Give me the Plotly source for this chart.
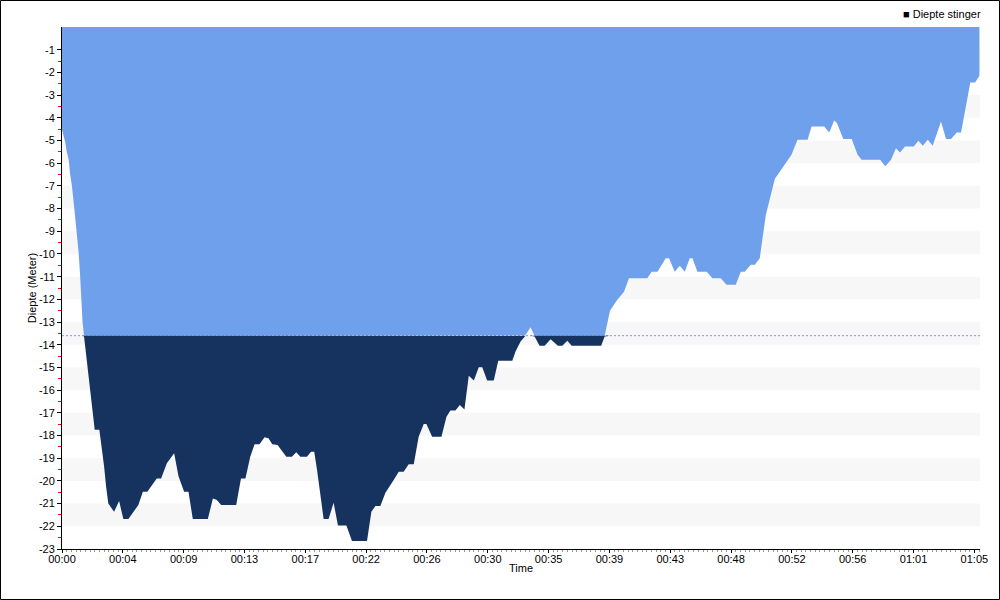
import plotly.graph_objects as go
import numpy as np

# --- data (time in minutes, depth in metres) ---
time_min = [0.00, 0.09, 0.24, 0.34, 0.48, 0.57, 0.71, 0.86, 1.05, 1.19, 1.28, 1.38, 1.43, 1.46,
            1.57, 1.71, 1.88, 2.05, 2.23, 2.33, 2.66, 2.83, 3.00, 3.14, 3.30, 3.71, 4.07, 4.37,
            4.73, 5.44, 5.76, 6.08, 6.75, 7.06, 7.47, 7.99, 8.30, 8.70, 9.01, 9.32, 10.39, 10.75,
            11.03, 11.34, 12.41, 12.75, 13.07, 13.41, 13.72, 14.07, 14.43, 14.71, 14.98, 15.36,
            15.98, 16.38, 16.69, 16.98, 17.45, 17.74, 17.97, 18.17, 18.64, 18.99, 19.35, 19.66,
            20.26, 20.66, 21.73, 22.04, 22.33, 22.68, 23.04, 23.63, 23.99, 24.34, 24.70, 25.06,
            25.41, 25.77, 25.96, 26.37, 27.03, 27.39, 27.67, 28.03, 28.34, 28.67, 28.98, 29.34,
            29.69, 29.94, 30.29, 30.76, 31.08, 32.08, 32.31, 32.67, 33.02, 33.38, 33.67, 34.02,
            34.38, 34.81, 35.33, 35.64, 36.00, 36.31, 38.41, 38.66, 39.04, 39.56, 40.04, 40.39,
            41.70, 42.01, 42.42, 43.01, 43.25, 43.65, 44.01, 44.37, 44.72, 44.91, 45.27, 45.93,
            46.34, 46.93, 47.34, 48.00, 48.36, 48.64, 49.07, 49.36, 49.71, 50.14, 50.78, 51.97,
            52.40, 53.12, 53.40, 54.30, 54.66, 55.01, 55.21, 55.66, 56.26, 56.68, 56.97, 58.29,
            58.65, 59.06, 59.41, 59.70, 60.06, 60.68, 61.01, 61.32, 61.68, 62.03, 62.62, 62.98,
            63.34, 63.74, 64.05, 64.34, 64.71, 65.05, 65.36]
depth_m = [-4.53, -4.75, -5.10, -5.50, -5.85, -6.44, -7.03, -7.90, -9.08, -9.97, -10.85, -11.73, -12.60, -13.00,
           -13.64, -14.40, -15.40, -16.40, -17.40, -17.75, -17.75, -18.50, -19.37, -20.25, -21.00, -21.36, -20.89, -21.68,
           -21.68, -21.06, -20.48, -20.48, -19.89, -19.89, -19.22, -18.78, -19.80, -20.48, -20.48, -21.68, -21.68, -20.77,
           -20.84, -21.06, -21.06, -19.89, -19.89, -18.93, -18.39, -18.39, -18.08, -18.12, -18.39, -18.42,
           -18.93, -18.93, -18.74, -18.93, -18.93, -18.71, -18.71, -19.52, -21.68, -21.68, -20.96, -21.97,
           -21.97, -22.65, -22.65, -21.36, -21.10, -21.10, -20.52, -19.96, -19.60, -19.60, -19.27, -19.27,
           -18.05, -17.49, -17.49, -18.05, -18.05, -17.17, -16.90, -16.90, -16.65, -16.85, -15.37, -15.58,
           -14.99, -14.99, -15.58, -15.58, -14.70, -14.70, -14.30, -13.86, -13.57, -13.23, -13.64, -14.05,
           -14.05, -13.76, -14.05, -14.05, -13.82, -14.05, -14.05, -13.64, -12.50, -12.02, -11.66, -11.07,
           -11.07, -10.78, -10.78, -10.19, -10.19, -10.78, -10.52, -10.78, -10.19, -10.19, -10.78, -10.78,
           -11.07, -11.07, -11.36, -11.36, -10.78, -10.78, -10.48, -10.48, -10.19, -8.28, -6.70, -5.63,
           -4.97, -4.97, -4.38, -4.38, -4.65, -4.12, -4.23, -4.94, -4.94, -5.63, -5.85, -5.85,
           -6.14, -5.85, -5.34, -5.53, -5.26, -5.26, -5.01, -5.23, -4.97, -5.23, -4.16, -4.94,
           -4.94, -4.65, -4.65, -3.72, -2.44, -2.44, -2.15]

threshold_m = -13.6
x_tick_labels = ["00:00", "00:04", "00:09", "00:13", "00:17", "00:22", "00:26", "00:30",
                 "00:35", "00:39", "00:43", "00:48", "00:52", "00:56", "01:01", "01:05"]
y_ticks = list(range(-1, -24, -1))
legend_label = "Diepte stinger"

LIGHT = "#6fa0ec"
DARK = "#16325f"
FONT = "Liberation Sans"

t = np.array(time_min)
d = np.array(depth_m)
upper = np.maximum(d, threshold_m)
lower = np.minimum(d, threshold_m)

fig = go.Figure()
fig.add_trace(go.Scatter(x=t, y=upper, mode="lines", line=dict(width=0, color=LIGHT),
                         fill="tozeroy", fillcolor=LIGHT, showlegend=False, hoverinfo="skip"))
fig.add_trace(go.Scatter(x=t, y=[threshold_m] * len(t), mode="lines", line=dict(width=0, color=DARK),
                         showlegend=False, hoverinfo="skip"))
fig.add_trace(go.Scatter(x=t, y=lower, mode="lines", line=dict(width=0, color=DARK),
                         fill="tonexty", fillcolor=DARK, showlegend=False, hoverinfo="skip"))

shapes = []
for k in range(1, 23, 2):
    shapes.append(dict(type="rect", xref="paper", yref="y", x0=0, x1=1, y0=-k - 1, y1=-k,
                       fillcolor="#f7f7f7", line=dict(width=0), layer="below"))
shapes.append(dict(type="line", xref="paper", yref="y", x0=0, x1=1, y0=threshold_m, y1=threshold_m,
                   line=dict(color="#8c8cff", width=1, dash="2px,2px"), layer="below"))

L, R, T, B = 62, 20, 27, 51
PW, PH = 1000 - L - R, 600 - T - B
shapes.append(dict(type="rect", xref="paper", yref="paper",
                   x0=-(L - 0.5) / PW, x1=1 + (R - 0.5) / PW,
                   y0=-(B - 0.5) / PH, y1=1 + (T - 0.5) / PH,
                   line=dict(color="black", width=1), fillcolor="rgba(0,0,0,0)", layer="above"))

fig.update_layout(
    width=1000, height=600,
    margin=dict(l=L, r=R, t=T, b=B),
    paper_bgcolor="white", plot_bgcolor="white",
    font=dict(family=FONT, size=11, color="black"),
    shapes=shapes,
    showlegend=False,
    annotations=[dict(xref="paper", yref="paper", x=1 + 3 / PW, y=1 + (T - 14) / PH,
                      xanchor="right", yanchor="middle", showarrow=False,
                      text="■ " + legend_label, font=dict(family=FONT, size=11, color="black"))],
)
fig.update_xaxes(
    range=[0, 65.4], showgrid=False, zeroline=False,
    showline=True, linecolor="black", linewidth=1,
    tickmode="array", tickvals=[i * 65 / 15 for i in range(16)], ticktext=x_tick_labels,
    ticks="outside", ticklen=3, tickcolor="black", ticklabelstandoff=-3,
    minor=dict(tickmode="linear", tick0=0, dtick=1 / 3, ticks="outside", ticklen=2, tickcolor="#999999"),
    title=dict(text="Time", standoff=0, font=dict(size=11)),
    tickfont=dict(size=11),
)
fig.update_yaxes(
    range=[-23, 0], showgrid=False, zeroline=False,
    showline=True, linecolor="black", linewidth=1,
    tickmode="array", tickvals=y_ticks, ticktext=[str(v) for v in y_ticks],
    ticks="outside", ticklen=4, tickcolor="black",
    minor=dict(tickmode="array", tickvals=[v - 0.5 for v in y_ticks[:-1]],
               ticks="outside", ticklen=3, tickcolor="red"),
    title=dict(text="Diepte (Meter)", standoff=0, font=dict(size=11)),
    tickfont=dict(size=11),
)

fig.write_html("out.html", config={"displayModeBar": False},
               post_script="document.body.style.margin='0px';document.body.style.overflow='hidden';")
